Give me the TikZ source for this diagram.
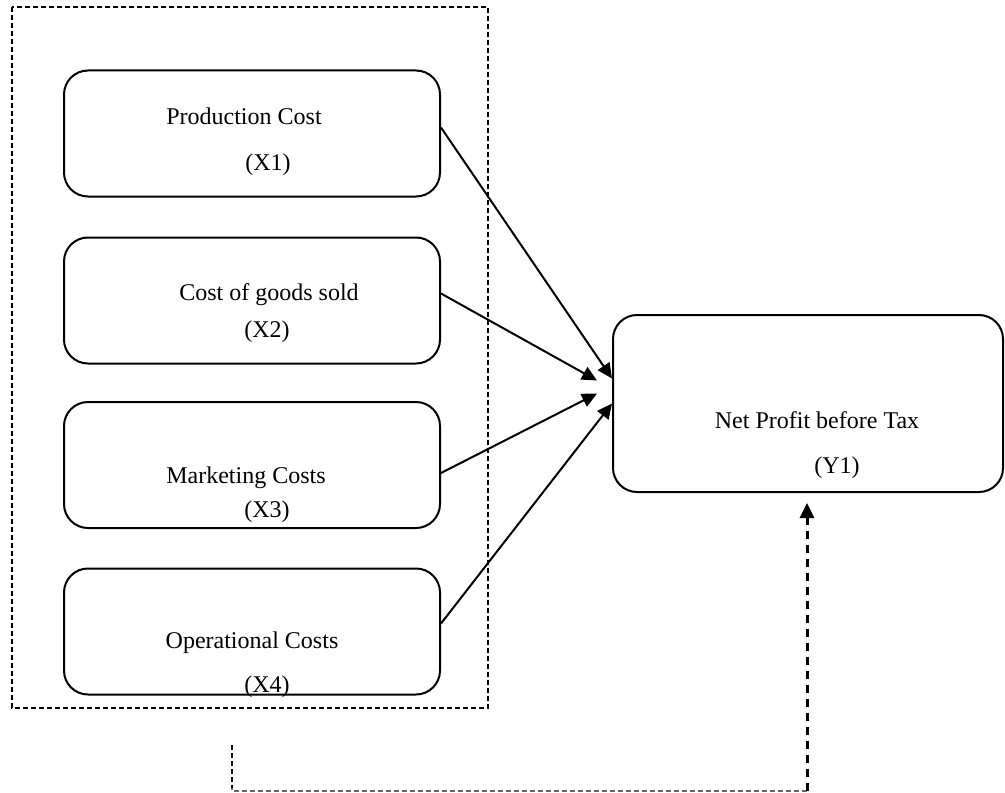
\documentclass[tikz,border=0pt]{standalone}
\usepackage{fontspec}
\setmainfont{Liberation Serif}
\usetikzlibrary{arrows.meta,calc}

\begin{document}
\begin{tikzpicture}[x=0.5pt,y=-0.5pt,
	costbox/.style={draw=black,line width=1pt,rounded corners=12pt,minimum width=188pt,minimum height=63pt,inner sep=0pt},
	resultbox/.style={draw=black,line width=1pt,rounded corners=12pt,minimum width=195pt,minimum height=88.5pt,inner sep=0pt},
	txt/.style={anchor=base,inner sep=0pt,font=\fontsize{12}{14}\selectfont},
	link/.style={line width=1pt,-{Triangle[length=7.5pt,width=7pt]}}]
	\useasboundingbox (0,0) rectangle (1005,792);
	% group of cost variables
	\draw [black,line width=0.75pt,dash pattern=on 2.5pt off 1.5pt] (12,7) rectangle (488,708);
	\node [costbox] (x1) at (252,133.5) {};
	\node [costbox] (x2) at (252,300.5) {};
	\node [costbox] (x3) at (252,465) {};
	\node [costbox] (x4) at (252,631.5) {};
	\node [resultbox] (y1) at (808,403.5) {};
	\node [txt] (x1name) at (244,125) {Production Cost};
	\node [txt] (x1sym) at (268,170) {(X1)};
	\node [txt] (x2name) at (269,300) {Cost of goods sold};
	\node [txt] (x2sym) at (267,337) {(X2)};
	\node [txt] (x3name) at (246,483) {Marketing Costs};
	\node [txt] (x3sym) at (267,517) {(X3)};
	\node [txt] (x4name) at (252,648) {Operational Costs};
	\node [txt] (x4sym) at (267,692) {(X4)};
	\node [txt] (y1name) at (817,428) {Net Profit before Tax};
	\node [txt] (y1sym) at (837,473) {(Y1)};
	% arrow tips at the result box
	\coordinate (t1) at ($(y1.west)+(0,-25)$);
	\coordinate (t2) at ($(y1.west)+(-15,-23)$);
	\coordinate (t3) at ($(y1.west)+(-15,-10)$);
	\coordinate (t4) at (y1.west);
	\draw [link] ($(x1.east)+(0,-6)$) -- (t1);
	\draw [link] ($(x2.east)+(0,-7)$) -- (t2);
	\draw [link] ($(x3.east)+(0,8)$) -- (t3);
	\draw [link] ($(x4.east)+(0,-8)$) -- (t4);
	% feedback line
	\coordinate (fbstart) at (232,745);
	\coordinate (fbcorner) at (807,791);
	\coordinate (fbend) at ($(y1.south)+(-1,10)$);
	\draw [black!60,line width=0.75pt,dash pattern=on 2.5pt off 1.5pt] (fbstart) |- (fbcorner);
	\draw [black,line width=0.75pt,dash pattern=on 2.5pt off 1.5pt] (fbstart) -- (232,788);
	\draw [line width=1.5pt,dash pattern=on 4pt off 3pt,-{Triangle[length=7.5pt,width=7pt]}] (fbcorner) -- (fbend);
\end{tikzpicture}
\end{document}
